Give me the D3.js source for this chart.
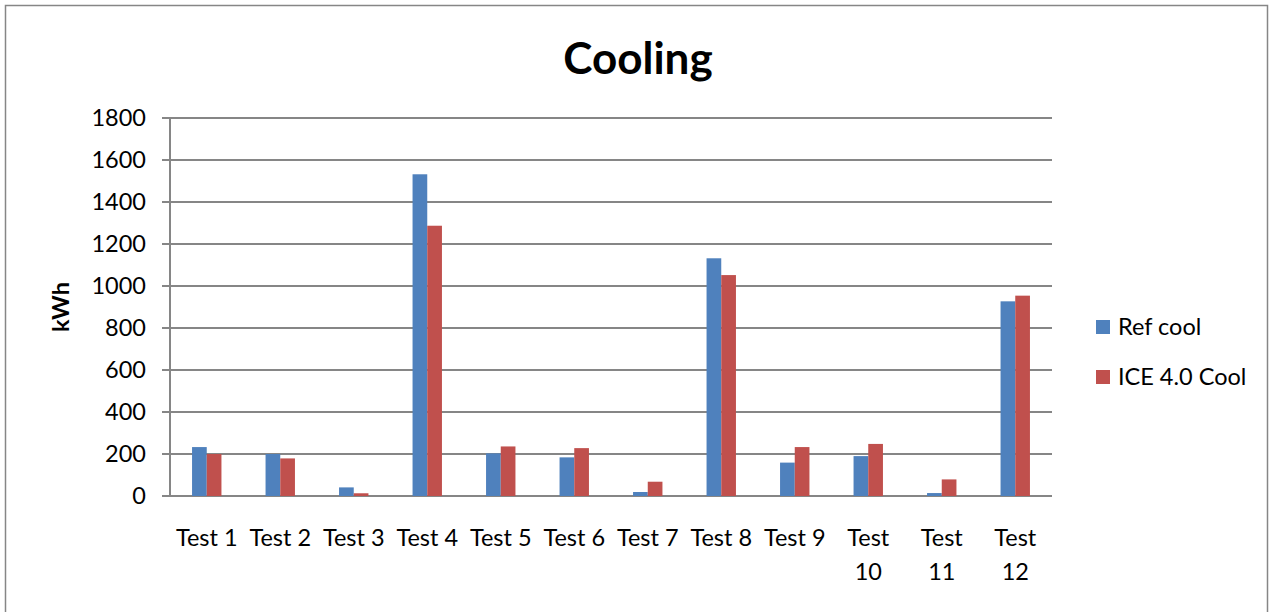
<!DOCTYPE html>
<html>
<head>
<meta charset="utf-8">
<script src="https://cdn.jsdelivr.net/npm/d3@7"></script>
<style>
  body { margin: 0; background: #fff; }
  text { font-family: Lato, "Open Sans", sans-serif; fill: #000; }
</style>
</head>
<body>
<svg id="chart" width="1271" height="612"></svg>
<script>
const categories = ['Test 1', 'Test 2', 'Test 3', 'Test 4', 'Test 5', 'Test 6',
  'Test 7', 'Test 8', 'Test 9', 'Test 10', 'Test 11', 'Test 12'];
const refCool = [233, 200, 41, 1532, 203, 184, 19, 1132, 159, 190, 14, 927];
const iceCool = [200, 179, 13, 1287, 236, 228, 68, 1052, 233, 248, 79, 954];
const seriesNames = ['Ref cool', 'ICE 4.0 Cool'];
const yTicks = [0, 200, 400, 600, 800, 1000, 1200, 1400, 1600, 1800];

const colors = ['#4F81BD', '#C0504D'];
const margin = { top: 118, left: 170, right: 219, bottom: 116 };
const W = 1271, H = 612;
const plotW = W - margin.left - margin.right;
const plotH = H - margin.top - margin.bottom;
const fontSize = '23.5px';

const svg = d3.select('#chart');

// outer chart border
svg.append('rect')
  .attr('x', 5.5).attr('y', 5.5)
  .attr('width', W - 9).attr('height', H)
  .attr('fill', 'none')
  .attr('stroke', '#868686')
  .attr('stroke-width', 1.5);

svg.append('text')
  .attr('x', 638).attr('y', 74)
  .attr('text-anchor', 'middle')
  .style('font-size', '44px')
  .style('font-weight', 'bold')
  .text('Cooling');

const g = svg.append('g')
  .attr('transform', `translate(${margin.left},${margin.top})`);

const x = d3.scaleBand()
  .domain(categories)
  .range([0, plotW]);

const x1 = d3.scaleBand()
  .domain(seriesNames)
  .range([x.bandwidth() * 0.3, x.bandwidth() * 0.7]);

const y = d3.scaleLinear()
  .domain([0, 1800])
  .range([plotH, 0]);

// gridlines
g.append('g')
  .selectAll('line')
  .data(yTicks)
  .join('line')
    .attr('x1', -8)
    .attr('x2', plotW)
    .attr('y1', d => y(d))
    .attr('y2', d => y(d))
    .attr('stroke', '#868686')
    .attr('stroke-width', 2);

const yAxis = d3.axisLeft(y)
  .tickValues(yTicks)
  .tickFormat(d3.format('d'))
  .tickSize(0)
  .tickPadding(24);

g.append('g')
  .call(yAxis)
  .call(s => s.select('.domain').remove())
  .selectAll('text')
    .style('font-size', fontSize)
    .attr('fill', '#000');

// y axis line
g.append('line')
  .attr('x1', 0).attr('x2', 0)
  .attr('y1', 0).attr('y2', plotH)
  .attr('stroke', '#868686')
  .attr('stroke-width', 2);

const rows = categories.map((c, i) => ({ cat: c, values: [refCool[i], iceCool[i]] }));

const groups = g.append('g')
  .selectAll('g')
  .data(rows)
  .join('g')
    .attr('transform', d => `translate(${x(d.cat)},0)`);

groups.selectAll('rect')
  .data(d => d.values.map((v, j) => ({ name: seriesNames[j], value: v, j })))
  .join('rect')
    .attr('x', d => x1(d.name))
    .attr('width', x1.bandwidth())
    .attr('y', d => y(d.value))
    .attr('height', d => plotH - y(d.value))
    .attr('fill', d => colors[d.j]);

// x axis labels, wrapped like Excel when too wide for the band
const xAxis = d3.axisBottom(x).tickSize(0).tickPadding(0);
const xg = g.append('g')
  .attr('transform', `translate(0,${plotH})`)
  .call(xAxis);
xg.select('.domain').remove();
xg.selectAll('text')
  .style('font-size', fontSize)
  .attr('fill', '#000')
  .attr('dy', null)
  .each(function (d) {
    const t = d3.select(this);
    t.attr('y', 50);
    if (this.getComputedTextLength() > x.bandwidth() - 4) {
      t.text(null);
      d.split(' ').forEach((w, k) => {
        t.append('tspan').attr('x', 0).attr('y', 50 + k * 34).text(w);
      });
    }
  });

// y axis title
svg.append('text')
  .attr('transform', 'translate(69,307) rotate(-90)')
  .attr('text-anchor', 'middle')
  .style('font-size', fontSize)
  .style('font-weight', 'bold')
  .text('kWh');

// legend
const legend = svg.append('g')
  .selectAll('g')
  .data(seriesNames)
  .join('g')
    .attr('transform', (d, i) => `translate(1096,${320 + i * 50})`);

legend.append('rect')
  .attr('width', 14).attr('height', 14)
  .attr('fill', (d, i) => colors[i]);

legend.append('text')
  .attr('x', 22).attr('y', 15)
  .style('font-size', fontSize)
  .text(d => d);
</script>
</body>
</html>
